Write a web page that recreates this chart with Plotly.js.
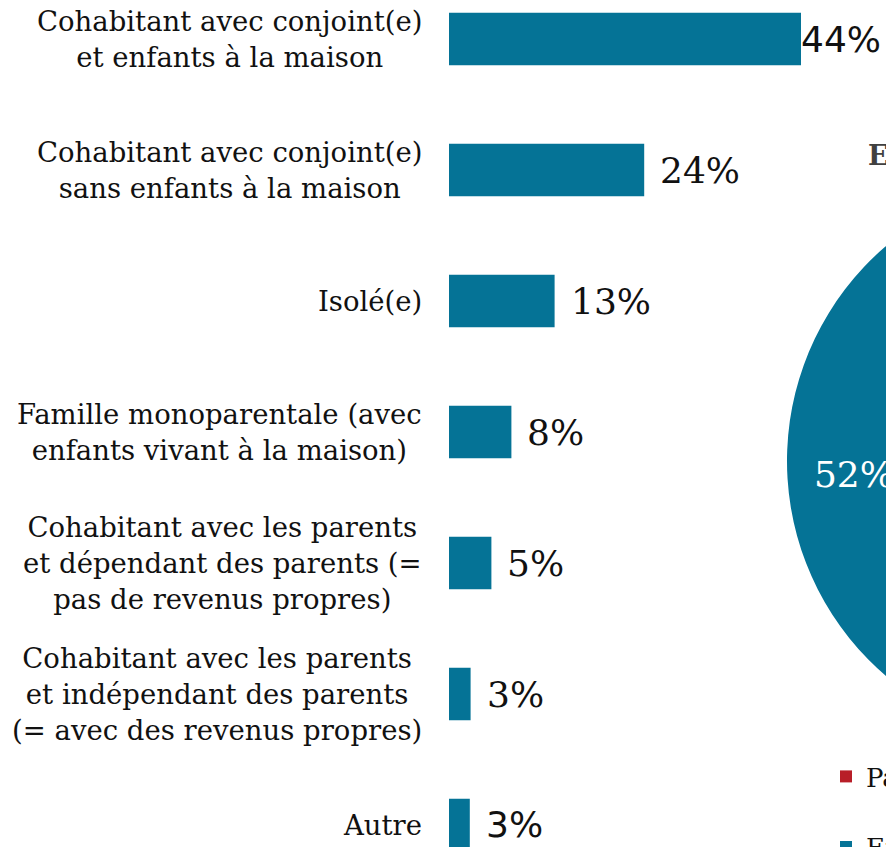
<!DOCTYPE html>
<html>
<head>
<meta charset="utf-8">
<script src="https://cdn.plot.ly/plotly-3.0.1.min.js"></script>
<style>
html,body{margin:0;padding:0;overflow:hidden;background:#fff;}
#chart{width:1400px;height:847px;}
</style>
</head>
<body>
<div id="chart"></div>
<script>
// ---- data ----
const categories = [
  "Cohabitant avec conjoint(e)<br>et enfants à la maison",
  "Cohabitant avec conjoint(e)<br>sans enfants à la maison",
  "Isolé(e)",
  "Famille monoparentale (avec<br>enfants vivant à la maison)",
  "Cohabitant avec les parents<br>et dépendant des parents (=<br>pas de revenus propres)",
  "Cohabitant avec les parents<br>et indépendant des parents<br>(= avec des revenus propres)",
  "Autre"
];
const values = [44, 24.4, 13.2, 7.8, 5.3, 2.7, 2.6];
const valueLabels = ["44%", "24%", "13%", "8%", "5%", "3%", "3%"];

const pieLabels = ["Pas d'enfants", "Enfants"];
const pieValues = [48, 52];
const pieTitle = "Enfants à la maison";

// ---- styles ----
const W = 1400, H = 847;
const teal = "#057396", red = "#B81E28";
const serif = "DejaVu Serif, Liberation Serif, serif";
const sans = "DejaVu Sans, Verdana, sans-serif";
const labelFonts = [sans, serif, serif, serif, serif, serif, sans];

const bar = {
  type: "bar", orientation: "h",
  x: values, y: categories,
  marker: {color: teal},
  width: 0.4,
  hoverinfo: "skip",
  showlegend: false
};

const pie = {
  type: "pie",
  labels: pieLabels.map(s => s + "<br> "),
  values: pieValues,
  sort: false,
  direction: "clockwise",
  rotation: 0,
  hole: 0.53,
  marker: {colors: [red, teal]},
  textinfo: "percent",
  textposition: "inside",
  insidetextorientation: "horizontal",
  insidetextfont: {color: "#ffffff", family: serif, size: 36},
  texttemplate: "%{percent:.0%}",
  domain: {x: [(1070 - 283) / W, (1070 + 283) / W], y: [1 - 744 / H, 1 - 178 / H]},
  hoverinfo: "skip"
};

const annotations = [];
categories.forEach((c, i) => {
  annotations.push({
    x: 0, xref: "x", y: c, yref: "y",
    xanchor: "right", yanchor: "middle", xshift: -25,
    text: c, align: "center", showarrow: false,
    font: {family: serif, size: 27.5, color: "#111"}
  });
  annotations.push({
    x: values[i], xref: "x", y: c, yref: "y",
    xanchor: "left", yanchor: "middle", xshift: i === 0 ? -2 : 14,
    text: valueLabels[i], showarrow: false,
    font: {family: labelFonts[i], size: 36, color: "#111"}
  });
});
annotations.push({
  x: 866 / W, xref: "paper", y: 1 - 155 / H, yref: "paper",
  xanchor: "left", yanchor: "middle",
  text: "<b>" + pieTitle + "</b>", showarrow: false,
  font: {family: serif, size: 27, color: "#404040"}
});

const layout = {
  width: W, height: H,
  margin: {l: 0, r: 0, t: 0, b: 0, autoexpand: false},
  paper_bgcolor: "#fff", plot_bgcolor: "#fff",
  xaxis: {
    domain: [449 / W, (449 + 400) / W],
    range: [0, 50],
    showgrid: false, zeroline: false, showticklabels: false, showline: false, ticks: ""
  },
  yaxis: {
    type: "category",
    range: [6.168, -0.298],
    showgrid: false, zeroline: false, showticklabels: false, showline: false, ticks: ""
  },
  showlegend: true,
  legend: {
    x: 826 / W, xanchor: "left",
    y: 1 - 753 / H, yanchor: "top",
    valign: "top",
    font: {family: serif, size: 26, color: "#111"},
    bgcolor: "rgba(0,0,0,0)"
  },
  annotations: annotations
};

Plotly.newPlot("chart", [bar, pie], layout, {staticPlot: true, displayModeBar: false});
</script>
</body>
</html>
